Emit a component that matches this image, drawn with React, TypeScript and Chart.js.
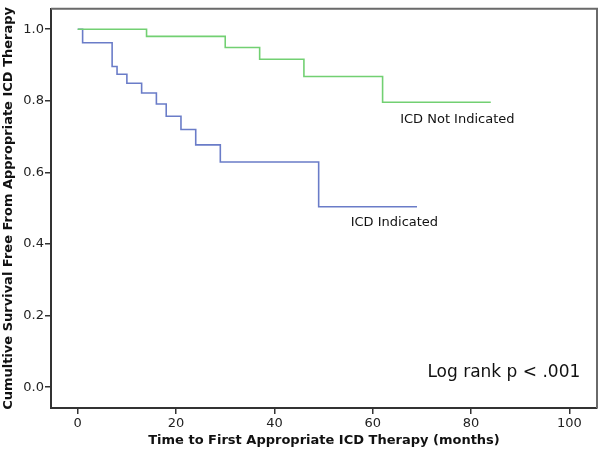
import React, { useEffect, useRef } from "react";
import { Chart, registerables } from "chart.js";
Chart.register(...registerables);

const indicatedTimes = [0, 1, 7, 8, 10, 13, 16, 18, 21, 24, 29, 49, 69];
const indicatedSurvival = [1, 0.962, 0.896, 0.874, 0.849, 0.822, 0.791, 0.757, 0.72, 0.677, 0.629, 0.504, 0.504];
const notIndicatedTimes = [0, 14, 30, 37, 46, 62, 84];
const notIndicatedSurvival = [1, 0.98, 0.949, 0.916, 0.868, 0.796, 0.796];
const xTicks = [0, 20, 40, 60, 80, 100];
const yTicks = [0, 0.2, 0.4, 0.6, 0.8, 1.0];
const seriesLabels = ["ICD Indicated", "ICD Not Indicated"];
const xTitle = "Time to First Appropriate ICD Therapy (months)";
const yTitle = "Cumultive Survival Free From Appropriate ICD Therapy";
const annotationText = "Log rank p < .001";

const FONT = "'DejaVu Sans', Verdana, sans-serif";

const framePlugin = {
  id: "frame",
  afterDraw(chart: any) {
    const { ctx, chartArea: a, scales } = chart;
    ctx.save();
    ctx.strokeStyle = "#6a6a6a";
    ctx.lineWidth = 2;
    ctx.beginPath();
    ctx.moveTo(a.left, a.top);
    ctx.lineTo(a.right, a.top);
    ctx.lineTo(a.right, a.bottom);
    ctx.stroke();
    ctx.fillStyle = "#111";
    ctx.textBaseline = "middle";
    ctx.font = `13px ${FONT}`;
    ctx.textAlign = "center";
    ctx.fillText(seriesLabels[1], scales.x.getPixelForValue(77.2), scales.y.getPixelForValue(0.748));
    ctx.fillText(seriesLabels[0], scales.x.getPixelForValue(64.4), scales.y.getPixelForValue(0.46));
    ctx.font = `17px ${FONT}`;
    ctx.textAlign = "right";
    ctx.fillText(annotationText, scales.x.getPixelForValue(102.2), scales.y.getPixelForValue(0.042));
    ctx.restore();
  },
};

export default function App() {
  const ref = useRef<HTMLCanvasElement | null>(null);
  useEffect(() => {
    if (!ref.current) return;
    const chart = new Chart(ref.current, {
      type: "line",
      data: {
        datasets: [
          {
            label: seriesLabels[1],
            data: notIndicatedTimes.map((t, i) => ({ x: t, y: notIndicatedSurvival[i] })),
            borderColor: "#72d072",
            borderWidth: 1.6,
            stepped: "before",
            pointRadius: 0,
            fill: false,
          },
          {
            label: seriesLabels[0],
            data: indicatedTimes.map((t, i) => ({ x: t, y: indicatedSurvival[i] })),
            borderColor: "#6a7cc8",
            borderWidth: 1.6,
            stepped: "before",
            pointRadius: 0,
            fill: false,
          },
        ],
      },
      options: {
        animation: false,
        responsive: false,
        layout: { padding: { top: 3, right: 3, left: 0, bottom: 0 } },
        plugins: { legend: { display: false }, tooltip: { enabled: false } },
        scales: {
          x: {
            type: "linear",
            min: -5.43,
            max: 105.6,
            afterBuildTicks: (s: any) => {
              s.ticks = xTicks.map((v) => ({ value: v }));
            },
            afterFit: (s: any) => {
              s.height = 45;
            },
            ticks: {
              color: "#222",
              font: { family: FONT, size: 13 },
              padding: 2,
              maxRotation: 0,
              callback: (v: any) => String(v),
            },
            grid: { drawOnChartArea: false, drawTicks: true, tickLength: 6, color: "#333", lineWidth: 1.5 },
            border: { display: true, color: "#333", width: 2 },
            title: {
              display: true,
              text: xTitle,
              color: "#111",
              font: { family: FONT, size: 13, weight: "bold" },
              padding: { top: 0, bottom: 5 },
            },
          },
          y: {
            type: "linear",
            min: -0.058,
            max: 1.057,
            afterBuildTicks: (s: any) => {
              s.ticks = yTicks.map((v) => ({ value: v }));
            },
            afterFit: (s: any) => {
              s.width = 51;
            },
            ticks: {
              color: "#222",
              font: { family: FONT, size: 13 },
              padding: 1,
              callback: (v: any) => Number(v).toFixed(1),
            },
            grid: { drawOnChartArea: false, drawTicks: true, tickLength: 6, color: "#333", lineWidth: 1.5 },
            border: { display: true, color: "#333", width: 2 },
            title: {
              display: true,
              text: yTitle,
              color: "#111",
              font: { family: FONT, size: 13, weight: "bold" },
              padding: { top: 1, bottom: 0 },
            },
          },
        },
      },
      plugins: [framePlugin],
    });
    return () => chart.destroy();
  }, []);
  return (
    <div style={{ position: "absolute", left: 0, top: 0, width: 600, height: 453, background: "#fff" }}>
      <canvas ref={ref} width={600} height={453} />
    </div>
  );
}
